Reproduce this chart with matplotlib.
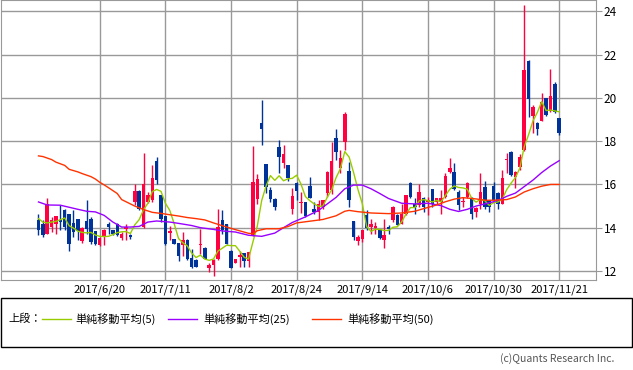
import matplotlib
matplotlib.use('Agg')
import matplotlib.pyplot as plt
import numpy as np
from matplotlib.lines import Line2D
from matplotlib.patches import Rectangle

plt.rcParams['font.family'] = ['Noto Sans CJK JP', 'DejaVu Sans']

# daily candles (open, high, low, close), 120 trading days
opens = [14.34, 14.15, 13.72, 14.03, 14.15, 14.34, 14.84, 14.62, 14.22, 14.39,
         13.38, 14.31, 14.42, 13.83, 13.18, 13.57, 14.19, 13.88, 14.19, 13.53,
         13.95, 13.65, 15.19, 15.70, 14.03, 15.19, 15.30, 17.08, 15.50, 14.53,
         13.77, 13.47, 13.29, 13.18, 13.44, 12.60, 12.51, 13.19, 13.07, 12.15,
         12.28, 12.56, 14.34, 14.15, 12.92, 12.39, 12.66, 12.82, 12.48, 13.64,
         15.32, 18.86, 16.94, 15.73, 15.32, 17.75, 16.97, 16.89, 14.88, 16.07,
         15.14, 15.19, 15.92, 14.88, 14.73, 14.96, 15.61, 15.76, 18.16, 16.74,
         17.98, 16.62, 14.31, 13.38, 13.49, 14.60, 14.02, 14.00, 13.88, 13.41,
         14.03, 14.34, 14.60, 14.19, 14.65, 16.07, 15.11, 15.04, 15.39, 15.20,
         15.78, 15.19, 15.19, 15.42, 16.59, 16.58, 15.66, 15.18, 15.42, 15.35,
         14.73, 15.11, 15.89, 15.27, 15.92, 15.61, 15.11, 17.12, 17.51, 16.35,
         16.82, 17.59, 21.73, 19.17, 18.86, 18.95, 19.99, 19.40, 20.64, 19.06]
highs = [14.62, 14.34, 15.39, 14.50, 14.55, 15.04, 14.88, 14.65, 14.80, 14.42,
         14.03, 15.27, 14.50, 13.85, 13.55, 13.93, 14.26, 13.90, 14.22, 13.80,
         14.19, 13.72, 16.01, 15.72, 17.44, 15.66, 16.89, 17.28, 15.52, 14.55,
         14.06, 13.50, 13.31, 13.80, 13.46, 13.02, 12.53, 13.95, 13.09, 12.36,
         12.53, 14.88, 14.84, 14.17, 12.95, 12.56, 12.92, 12.84, 12.89, 17.76,
         16.47, 19.91, 16.96, 15.89, 15.35, 18.06, 17.82, 16.91, 15.83, 16.09,
         15.66, 15.21, 16.35, 15.19, 15.27, 15.30, 16.60, 17.98, 18.57, 17.59,
         19.33, 17.05, 14.33, 13.64, 13.90, 14.80, 14.42, 14.26, 13.95, 14.42,
         14.11, 15.00, 14.62, 15.11, 15.52, 16.12, 15.35, 16.04, 15.41, 15.42,
         15.80, 15.37, 15.76, 16.51, 17.20, 16.97, 15.73, 15.42, 16.09, 15.42,
         14.96, 16.51, 16.17, 15.30, 16.12, 15.66, 16.67, 17.44, 17.53, 16.60,
         17.41, 24.28, 21.75, 19.68, 18.88, 20.22, 20.00, 21.34, 20.72, 19.08]
lows = [13.64, 13.57, 13.70, 13.80, 13.72, 13.88, 13.88, 12.92, 13.57, 13.41,
        13.29, 13.72, 13.26, 13.18, 13.15, 13.18, 13.72, 13.64, 13.60, 13.41,
        13.41, 13.50, 15.04, 14.84, 14.00, 15.15, 15.19, 16.04, 14.26, 13.21,
        13.41, 13.24, 12.48, 12.71, 12.51, 12.15, 12.18, 12.79, 12.54, 11.97,
        11.77, 12.51, 13.72, 13.24, 12.13, 12.37, 12.20, 12.20, 12.20, 13.62,
        15.11, 17.83, 15.60, 15.20, 14.84, 16.52, 16.75, 16.15, 14.62, 15.27,
        14.70, 14.50, 15.35, 14.65, 14.37, 14.88, 15.42, 15.58, 17.13, 16.51,
        17.59, 14.96, 13.41, 13.18, 13.33, 13.88, 13.72, 13.72, 13.49, 13.04,
        13.72, 14.26, 14.11, 14.15, 14.57, 15.38, 14.65, 14.96, 14.73, 14.57,
        14.96, 15.08, 14.65, 15.39, 16.51, 15.73, 14.80, 14.96, 15.35, 14.42,
        14.50, 14.88, 14.88, 14.73, 15.19, 14.88, 15.08, 16.51, 16.38, 15.82,
        16.67, 17.55, 19.14, 18.37, 18.29, 18.92, 19.17, 19.37, 19.32, 18.29]
closes = [13.88, 13.64, 15.08, 14.34, 14.53, 14.28, 14.03, 13.26, 13.80, 13.83,
          13.98, 13.95, 13.33, 13.23, 13.52, 13.91, 14.03, 13.72, 13.67, 13.72,
          13.98, 13.57, 15.70, 14.88, 16.01, 15.50, 16.28, 16.20, 14.42, 13.26,
          13.83, 13.26, 12.71, 13.44, 12.56, 12.20, 12.20, 13.23, 12.56, 12.26,
          12.51, 14.03, 13.88, 13.26, 12.15, 12.54, 12.70, 12.48, 12.87, 16.09,
          16.23, 18.57, 15.86, 15.32, 14.96, 17.28, 17.41, 16.31, 15.46, 15.70,
          15.18, 14.53, 15.38, 14.73, 15.11, 15.27, 16.58, 17.08, 17.51, 17.20,
          19.25, 15.27, 13.57, 13.57, 13.88, 13.98, 14.17, 14.04, 13.53, 13.64,
          13.95, 14.96, 14.14, 14.65, 15.50, 15.42, 14.96, 15.66, 14.96, 15.27,
          15.08, 15.35, 15.35, 16.38, 16.74, 15.81, 15.04, 15.22, 16.07, 14.65,
          14.93, 15.66, 14.96, 14.96, 15.27, 15.11, 16.32, 17.15, 16.43, 16.58,
          17.28, 21.28, 19.94, 19.57, 18.57, 19.79, 19.22, 20.07, 19.37, 18.37]

# 5-day simple moving average, one value per candle
ma5 = [14.42, 14.26, 14.22, 14.26, 14.29, 14.37, 14.45, 14.09, 13.98, 13.84,
       13.78, 13.76, 13.78, 13.66, 13.60, 13.59, 13.60, 13.68, 13.77, 13.81,
       13.82, 13.73, 14.13, 14.37, 14.83, 15.13, 15.67, 15.77, 15.68, 15.13,
       14.80, 14.19, 13.50, 13.30, 13.16, 12.83, 12.62, 12.73, 12.55, 12.49,
       12.55, 12.92, 13.05, 13.19, 13.17, 13.17, 12.91, 12.63, 12.55, 13.34,
       14.07, 15.25, 15.92, 16.41, 16.19, 16.40, 16.17, 16.26, 16.28, 16.43,
       16.01, 15.44, 15.25, 15.10, 14.99, 15.00, 15.41, 15.75, 16.31, 16.73,
       17.52, 17.26, 16.56, 15.77, 15.11, 14.05, 13.83, 13.93, 13.92, 13.87,
       13.87, 14.02, 14.04, 14.27, 14.64, 14.93, 14.93, 15.24, 15.30, 15.25,
       15.19, 15.26, 15.20, 15.49, 15.78, 15.93, 15.86, 15.84, 15.78, 15.36,
       15.18, 15.31, 15.25, 15.03, 15.16, 15.19, 15.32, 15.76, 16.06, 16.32,
       16.75, 17.74, 18.30, 18.93, 19.33, 19.83, 19.42, 19.44, 19.40, 19.36]

# 25-day and 50-day averages, read at selected candles
ma25_day = [0, 2, 5, 9, 11, 13, 15, 17, 19, 21, 23, 25, 27, 30, 32, 35, 37, 40, 42, 45,
            48, 51, 54, 56, 58, 61, 64, 66, 68, 70, 72, 74, 76, 78, 80, 83, 86, 89, 92,
            94, 96, 98, 100, 102, 104, 106, 107, 109, 111, 113, 115, 117, 119]
ma25 = [15.19, 15.05, 15.04, 14.85, 14.76, 14.73, 14.57, 14.26, 14.03, 14.03, 14.06,
        14.26, 14.31, 14.26, 14.20, 14.10, 14.00, 13.92, 13.85, 13.80, 13.65, 13.60,
        13.75, 14.00, 14.24, 14.50, 14.80, 15.10, 15.40, 15.80, 15.97, 15.97, 15.80,
        15.58, 15.35, 15.13, 15.10, 15.13, 15.02, 14.85, 14.75, 14.85, 15.00, 15.10,
        15.20, 15.35, 15.45, 15.60, 15.90, 16.20, 16.55, 16.85, 17.10]

ma50_day = [0, 1, 3, 4, 6, 7, 9, 10, 12, 13, 14, 15, 16, 18, 19, 21, 22, 24, 26, 28,
            30, 32, 34, 36, 38, 40, 43, 45, 48, 49, 50, 52, 55, 57, 59, 62, 65, 68, 70,
            71, 73, 76, 80, 83, 86, 88, 91, 93, 95, 97, 100, 102, 104, 107, 109, 111,
            113, 115, 117, 119]
ma50 = [17.32, 17.29, 17.15, 17.03, 16.88, 16.70, 16.58, 16.50, 16.36, 16.25, 16.10,
        15.98, 15.85, 15.58, 15.30, 15.10, 15.00, 14.84, 14.71, 14.66, 14.60, 14.54,
        14.47, 14.42, 14.36, 14.22, 14.03, 13.91, 13.74, 13.72, 13.86, 13.95, 13.95,
        14.05, 14.22, 14.30, 14.38, 14.55, 14.76, 14.80, 14.74, 14.68, 14.65, 14.68,
        14.76, 14.88, 15.05, 15.20, 15.32, 15.39, 15.33, 15.27, 15.27, 15.30, 15.42,
        15.65, 15.80, 15.92, 16.00, 16.00]

tick_days = [14, 29, 44, 59, 74, 89, 104, 119]
tick_labels = ['2017/6/20', '2017/7/11', '2017/8/2', '2017/8/24',
               '2017/9/14', '2017/10/6', '2017/10/30', '2017/11/21']
y_ticks = [12, 14, 16, 18, 20, 22, 24]

up_color = '#ff0040'
down_color = '#003399'
grid_color = '#999999'

fig = plt.figure(figsize=(6.33, 3.70), dpi=100)
ax = fig.add_axes([0.0008, 0.2432, 0.9400, 0.7568])

days = np.arange(len(closes))
o = np.array(opens)
c = np.array(closes)
colors = [up_color if cc >= oo else down_color for oo, cc in zip(o, c)]

ax.vlines(days, lows, highs, colors=colors, lw=1, zorder=3)
bottom = np.minimum(o, c)
height = np.maximum(np.abs(c - o), 0.06)
ax.bar(days, height, bottom=bottom, width=0.8, color=colors, lw=0, zorder=4)

ax.plot(days, ma5, color='#99cc00', lw=1, zorder=5)
ax.plot(ma25_day, ma25, color='#9900ff', lw=1, zorder=5)
ax.plot(ma50_day, ma50, color='#ff3300', lw=1, zorder=5)

ax.set_xlim(-8.68, 127.3)
ax.set_ylim(11.58, 24.53)
ax.set_xticks(tick_days)
ax.set_xticklabels(tick_labels)
ax.set_yticks(y_ticks)
ax.yaxis.tick_right()
ax.tick_params(axis='x', length=0, pad=3, labelsize=8)
ax.tick_params(axis='y', length=4, color=grid_color, pad=2, labelsize=8.5)
ax.grid(color=grid_color, lw=1)
ax.set_axisbelow(True)
for s in ax.spines.values():
    s.set_color(grid_color)

# legend box below the chart
fig.patches.append(Rectangle((0.0008, 0.062), 0.998, 0.1324, transform=fig.transFigure,
                             fill=False, edgecolor='black', lw=1))
ly = 0.1378
fig.text(8 / 633, ly, '上段：', fontsize=8, va='center')
items = [(42, 75, '#99cc00', '単純移動平均(5)'),
         (168, 203, '#9900ff', '単純移動平均(25)'),
         (312, 347, '#ff3300', '単純移動平均(50)')]
for x0, tx, col, name in items:
    fig.add_artist(Line2D([x0 / 633, (x0 + 29) / 633], [ly, ly], color=col, lw=1,
                          transform=fig.transFigure))
    fig.text(tx / 633, ly, name, fontsize=8, va='center')

fig.text(614 / 633, 0.032, '(c)Quants Research Inc.', fontsize=7.5, color='#555555',
         ha='right', va='center')

plt.savefig('out.png', dpi=100)
